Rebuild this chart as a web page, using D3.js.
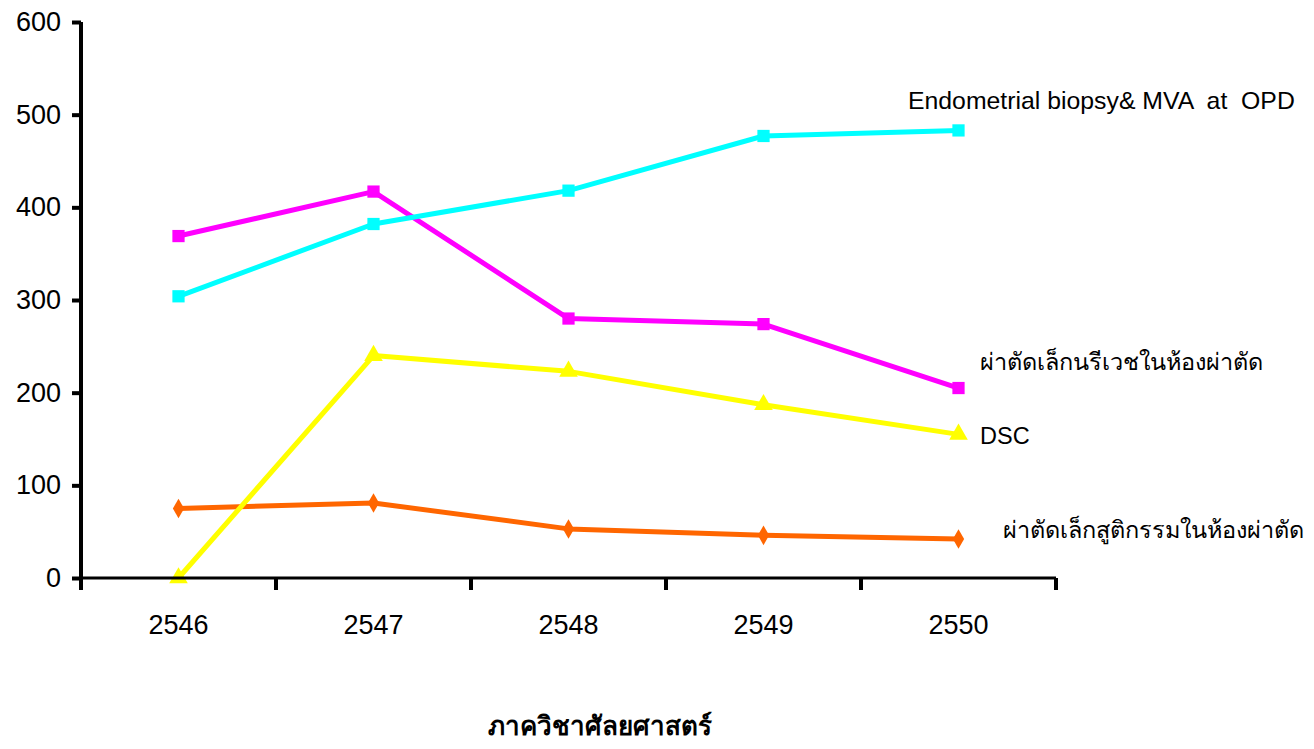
<!DOCTYPE html>
<html>
<head>
<meta charset="utf-8">
<script src="https://cdn.jsdelivr.net/npm/d3@7"></script>
<style>
  body { margin: 0; background: #fff; }
  svg text { font-family: "Liberation Sans", Arial, sans-serif; }
</style>
</head>
<body>
<div id="chart"></div>
<script>
// Data
const years = ["2546", "2547", "2548", "2549", "2550"];
const yTicks = [0, 100, 200, 300, 400, 500, 600];

const endometrial = [304, 382, 418, 477, 483];
const gynOR = [369, 417, 280, 274, 205];
const dsc = [0, 240, 223, 187, 155];
const obsOR = [75, 81, 53, 46, 42];

const seriesNames = [
    "Endometrial biopsy& MVA  at  OPD",
    "ผ่าตัดเล็กนรีเวชในห้องผ่าตัด",
    "DSC",
    "ผ่าตัดเล็กสูติกรรมในห้องผ่าตัด"
];
const title = "ภาควิชาศัลยศาสตร์";

const width = 1314, height = 749;
const margin = {left: 81, right: 258, top: 22, bottom: 171};

const svg = d3.select("#chart").append("svg")
    .attr("width", width)
    .attr("height", height);

const x = d3.scaleBand()
    .domain(years)
    .range([margin.left, width - margin.right]);

const y = d3.scaleLinear()
    .domain([0, 600])
    .range([height - margin.bottom, margin.top]);

// series config: values, colour, marker, label position
const series = [
    {vals: endometrial, color: "#00ffff", sym: d3.symbolSquare, size: 150, name: seriesNames[0], lx: 908, ly: 100, fs: 24.8},
    {vals: gynOR, color: "#ff00ff", sym: d3.symbolSquare, size: 150, name: seriesNames[1], lx: 980, ly: 362, fs: 23.5},
    {vals: dsc, color: "#ffff00", sym: d3.symbolTriangle, size: 150, name: seriesNames[2], lx: 980, ly: 436, fs: 23.5},
    {vals: obsOR, color: "#ff6600", sym: d3.symbolDiamond, size: 110, name: seriesNames[3], lx: 1003, ly: 530, fs: 23.5}
];

const cx = d => x(d) + x.bandwidth() / 2;

const line = d3.line()
    .x((d, i) => cx(years[i]))
    .y(d => y(d));

// draw from the bottom series upwards so overlaps look right
const drawOrder = [3, 2, 1, 0];
drawOrder.forEach(k => {
    const s = series[k];
    const g = svg.append("g").attr("class", "series-" + k);
    g.append("path")
        .attr("d", line(s.vals))
        .attr("fill", "none")
        .attr("stroke", s.color)
        .attr("stroke-width", 5)
        .attr("stroke-linejoin", "round");
    g.selectAll("path.mark")
        .data(s.vals)
        .enter().append("path")
        .attr("class", "mark")
        .attr("d", d3.symbol().type(s.sym).size(s.size))
        .attr("fill", s.color)
        .attr("transform", (d, i) => "translate(" + cx(years[i]) + "," + y(d) + ")");
});

// Series labels (keep the double spaces)
series.forEach(s => {
    svg.append("text")
        .attr("x", s.lx)
        .attr("y", s.ly)
        .attr("dy", "0.35em")
        .attr("font-size", s.fs)
        .attr("fill", "#000")
        .style("white-space", "pre")
        .text(s.name);
});

// Y axis
const yAxis = svg.append("g")
    .attr("transform", "translate(" + margin.left + ",0)")
    .call(d3.axisLeft(y).tickValues(yTicks).tickSize(9).tickPadding(11));
yAxis.select(".domain").attr("stroke-width", 4).attr("d", "M0," + y(600) + "V" + y(0));
yAxis.selectAll(".tick line").attr("stroke-width", 4);
yAxis.selectAll("text").attr("font-size", 27).attr("fill", "#000");

// X axis: ticks at band edges, labels in band centres
const xAxisG = svg.append("g")
    .attr("transform", "translate(0," + y(0) + ")");
xAxisG.append("line")
    .attr("x1", margin.left).attr("x2", width - margin.right)
    .attr("stroke", "#000").attr("stroke-width", 3);
const edges = years.map(d => x(d)).concat([x(years[years.length - 1]) + x.bandwidth()]);
xAxisG.selectAll("line.tick")
    .data(edges)
    .enter().append("line")
    .attr("class", "tick")
    .attr("x1", d => d).attr("x2", d => d)
    .attr("y1", 0).attr("y2", 12)
    .attr("stroke", "#000").attr("stroke-width", 4);
xAxisG.selectAll("text")
    .data(years)
    .enter().append("text")
    .attr("x", cx)
    .attr("y", 47)
    .attr("dy", "0.35em")
    .attr("text-anchor", "middle")
    .attr("font-size", 27)
    .text(d => d);

// Bottom title
svg.append("text")
    .attr("x", 600)
    .attr("y", 735)
    .attr("text-anchor", "middle")
    .attr("font-size", 26)
    .attr("font-weight", "bold")
    .style("font-family", "'Liberation Serif', serif")
    .text(title);
</script>
</body>
</html>
